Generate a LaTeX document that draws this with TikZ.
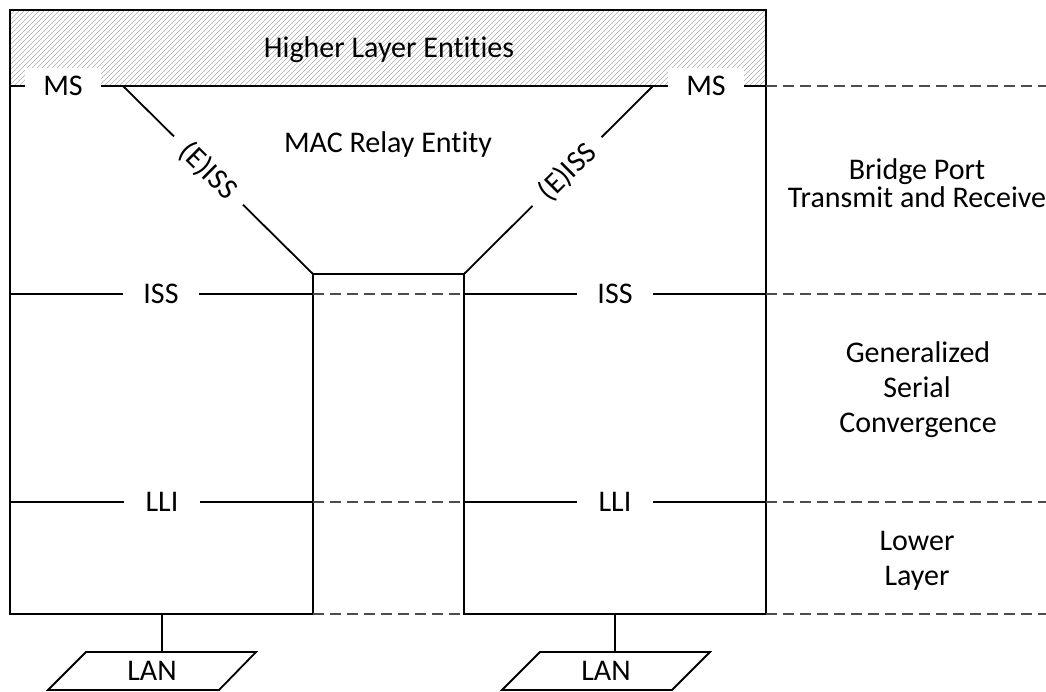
\documentclass[tikz,border=0pt]{standalone}
\usepackage{fontspec}
\setmainfont{Carlito}[Ligatures=NoCommon]
\begin{document}
\begin{tikzpicture}[x=1pt,y=-1pt,
  every node/.style={font=\fontsize{30pt}{36pt}\selectfont, text=black},
  edge/.style={line width=1.8pt, black},
  guide/.style={line width=1.4pt, black!70, dash pattern=on 11pt off 6pt},
  hatchline/.style={line width=0.6pt, black!32},
  iface/.style={fill=white, inner sep=0pt, minimum width=76pt, minimum height=36pt,
                text height=19.3pt, text depth=0pt},
  note/.style={anchor=base, inner sep=0pt}]
\useasboundingbox (0,0) rectangle (1046,691);

% hatched band of the higher layer
\begin{scope}
  \clip (10,10) rectangle (766,86);
  \foreach \k in {0,5,...,850} \draw[hatchline] (\k-76,86) -- (\k,10);
\end{scope}

% service interface labels
\node[iface] (msL) at (63,86) {MS};
\node[iface] (msR) at (706,86) {MS};
\node[iface] (issL) at (161,294) {ISS};
\node[iface] (issR) at (615,294) {ISS};
\node[iface] (lliL) at (162,502) {LLI};
\node[iface] (lliR) at (615,502) {LLI};

% bridge outline: two ports joined by the relay
\draw[edge] (10,10) -- (766,10) -- (766,614) -- (464,614) -- (464,274)
  -- (313,274) -- (313,614) -- (10,614) -- cycle;

% end points on the outline
\coordinate (msW) at (10,86);   \coordinate (msE) at (766,86);
\coordinate (issW) at (10,294); \coordinate (issE) at (766,294);
\coordinate (lliW) at (10,502); \coordinate (lliE) at (766,502);
\coordinate (relayL) at (313,274); \coordinate (relayR) at (464,274);
\coordinate (issML) at (313,294); \coordinate (issMR) at (464,294);
\coordinate (lliML) at (313,502); \coordinate (lliMR) at (464,502);
\coordinate (botML) at (313,614); \coordinate (botMR) at (464,614);
\coordinate (botE) at (766,614);
\coordinate (farMS) at (1046,86);  \coordinate (farISS) at (1046,294);
\coordinate (farLLI) at (1046,502); \coordinate (farBot) at (1046,614);
\coordinate (dL0) at (123,86); \coordinate (dR0) at (653,86);

% MS level
\draw[edge] (msW) -- (msL);
\draw[edge] (msL) -- (msR);
\draw[edge] (msR) -- (msE);
\draw[guide] (msE) -- (farMS);

% (E)ISS links into the relay
\draw[edge] (dL0) -- node[iface, sloped, pos=0.45, minimum width=97pt] {(E)ISS} (relayL);
\draw[edge] (dR0) -- node[iface, sloped, pos=0.455, minimum width=97pt] {(E)ISS} (relayR);

% ISS level
\draw[edge] (issW) -- (issL);
\draw[edge] (issL) -- (issML);
\draw[guide] (issML) -- (issMR);
\draw[edge] (issMR) -- (issR);
\draw[edge] (issR) -- (issE);
\draw[guide] (issE) -- (farISS);

% LLI level
\draw[edge] (lliW) -- (lliL);
\draw[edge] (lliL) -- (lliML);
\draw[guide] (lliML) -- (lliMR);
\draw[edge] (lliMR) -- (lliR);
\draw[edge] (lliR) -- (lliE);
\draw[guide] (lliE) -- (farLLI);

% bottom level
\draw[guide] (botML) -- (botMR);
\draw[guide] (botE) -- (farBot);

% titles
\node[note] (hle) at (389,57) {Higher Layer Entities};
\node[note] (mre) at (388,152) {MAC Relay Entity};

% layer names on the right
\node[note] (bp1) at (917,179) {Bridge Port};
\node[note] (bp2) at (917,207) {Transmit and Receive};
\node[note] (gs1) at (918,362) {Generalized};
\node[note] (gs2) at (917,397) {Serial};
\node[note] (gs3) at (918,432) {Convergence};
\node[note] (ll1) at (917,550) {Lower};
\node[note] (ll2) at (917,585) {Layer};

% attached LANs
\coordinate (portL) at (162,614); \coordinate (lanLtop) at (162,652);
\coordinate (portR) at (615,614); \coordinate (lanRtop) at (615,652);
\draw[edge] (portL) -- (lanLtop);
\draw[edge] (portR) -- (lanRtop);
\draw[edge] (86,652) -- (256,652) -- (219,690) -- (48,690) -- cycle;
\draw[edge] (540,652) -- (710,652) -- (672,690) -- (502,690) -- cycle;
\node[note] (lanL) at (152,680) {LAN};
\node[note] (lanR) at (606,680) {LAN};
\end{tikzpicture}
\end{document}
